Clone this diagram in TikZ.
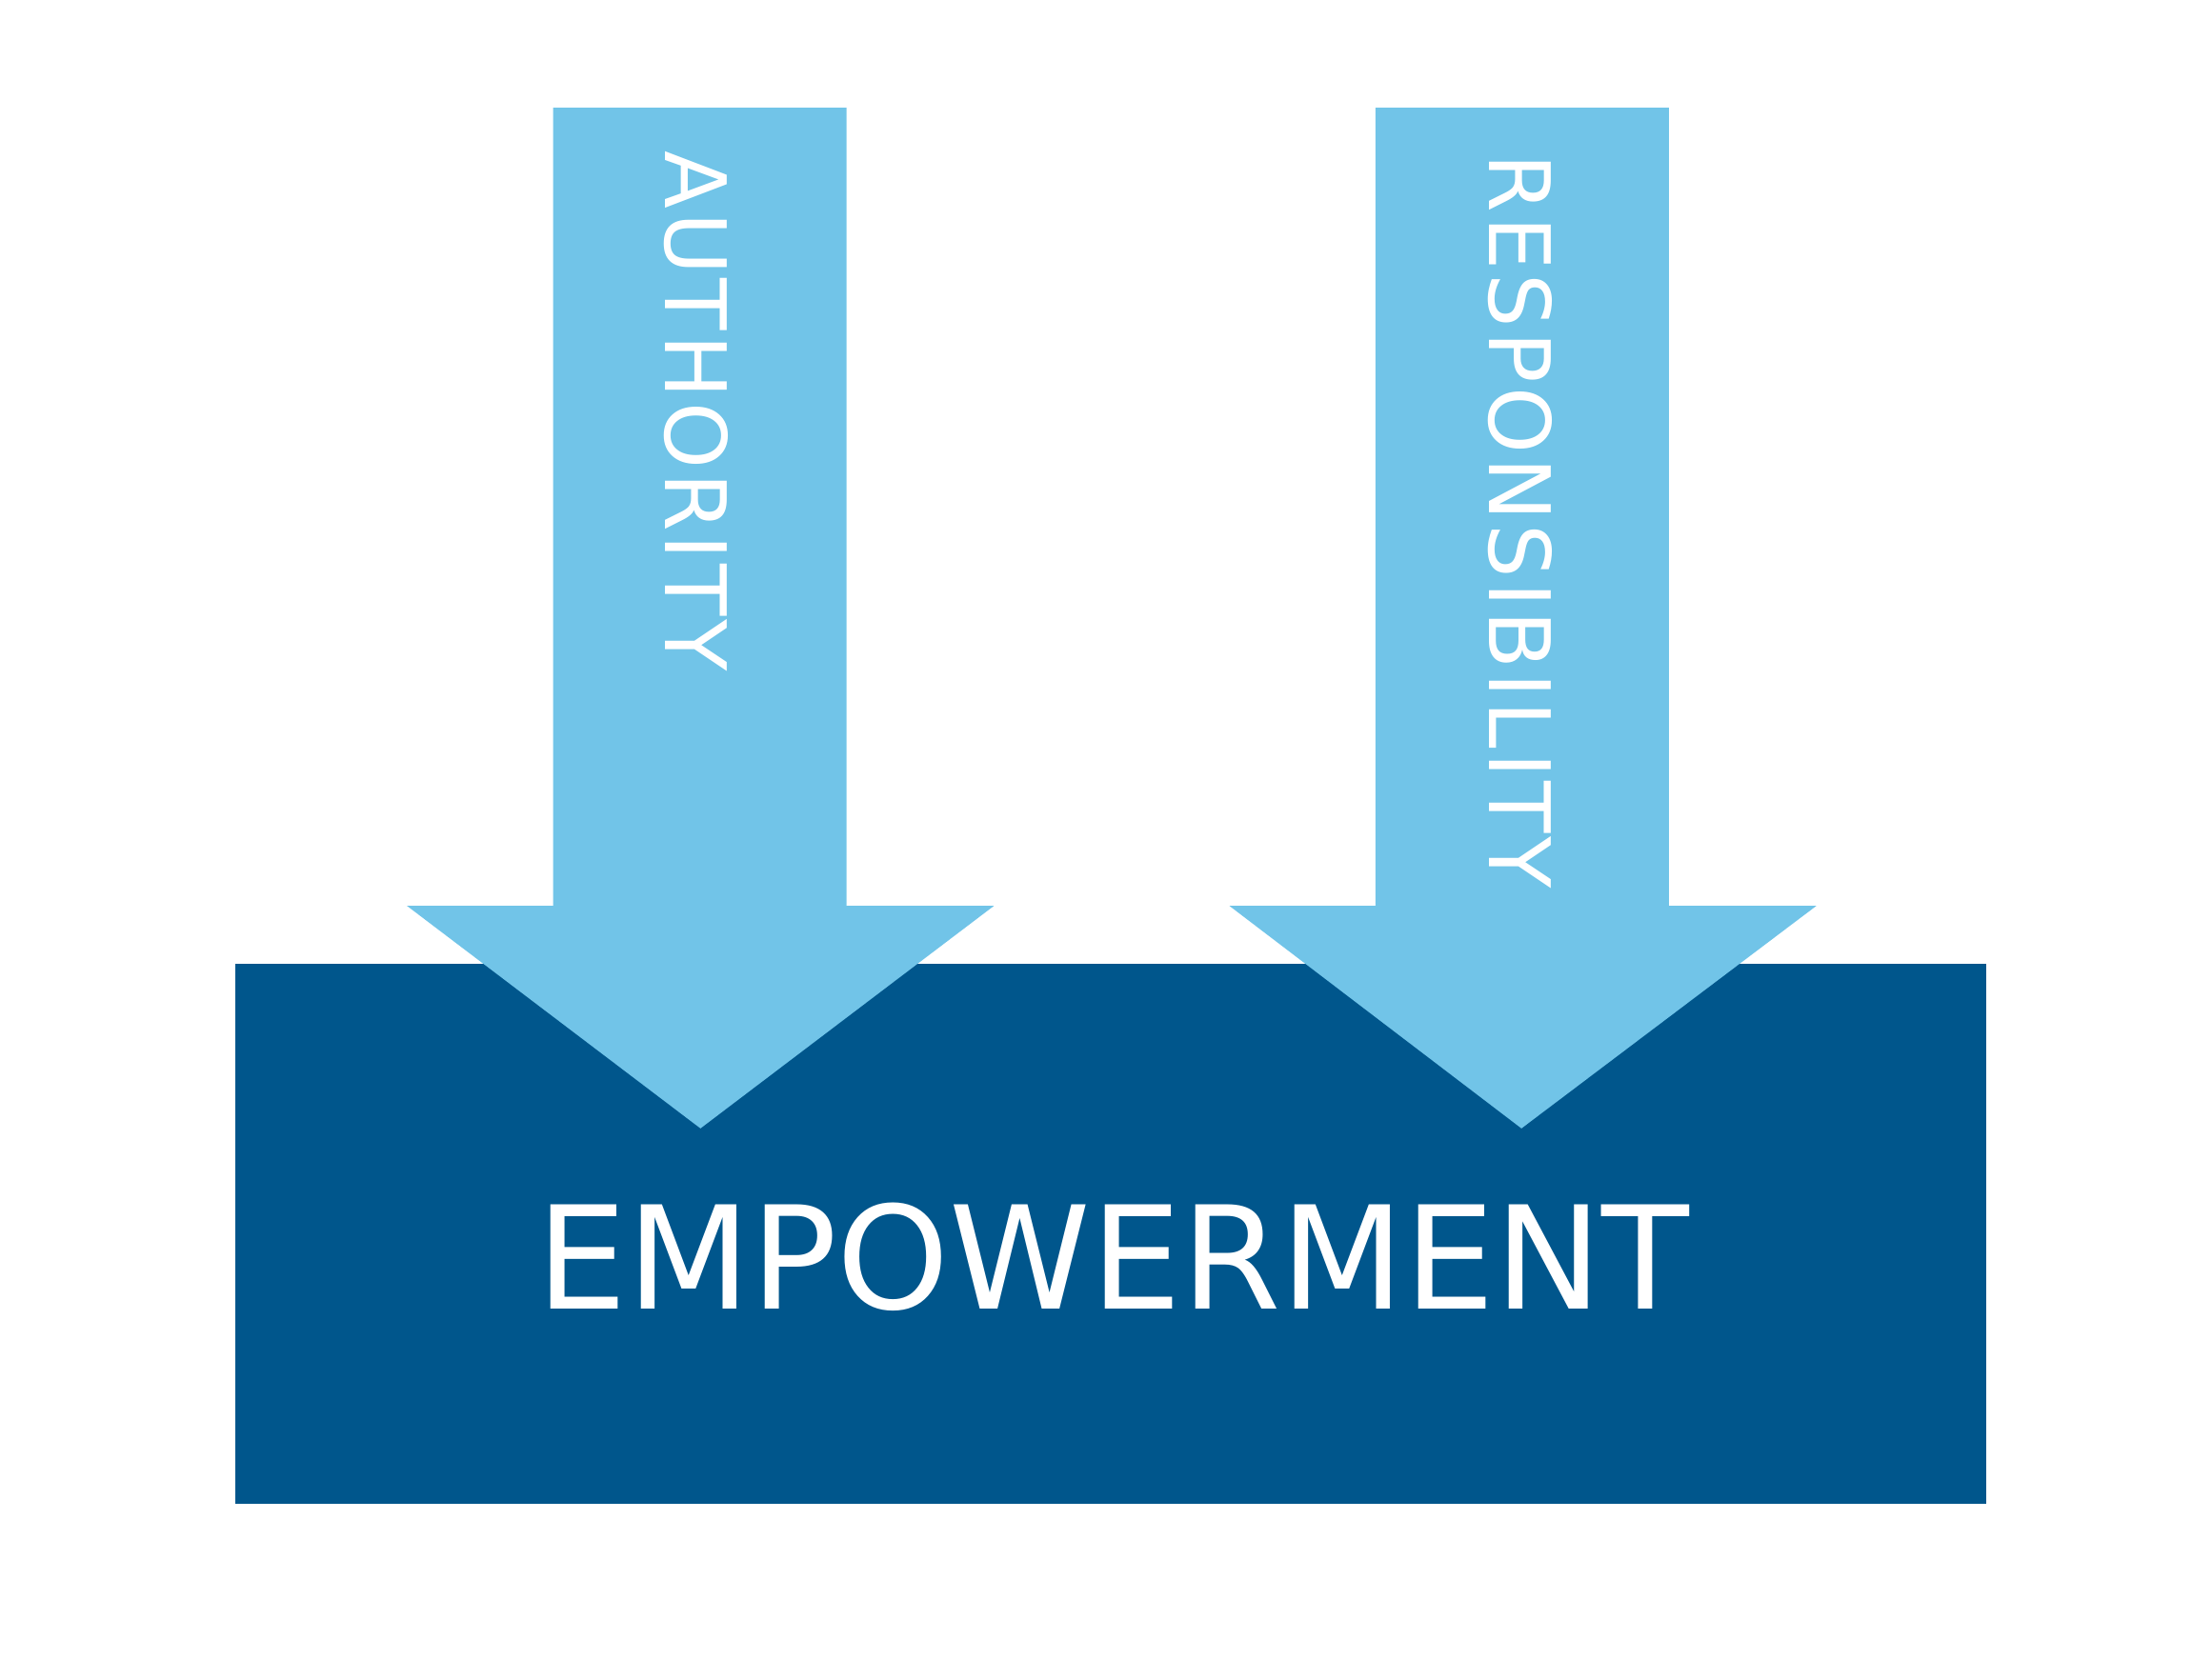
\documentclass[tikz,border=0pt]{standalone}
\usepackage{fontspec}
\setmainfont{DejaVu Sans}
\newfontfamily\spacedfont[LetterSpace=4.5]{DejaVu Sans}
\definecolor{lightarrow}{HTML}{71C4E8}
\definecolor{darkbox}{HTML}{00568C}
\begin{document}
\begin{tikzpicture}
	% Styles
	[
	x=0.01cm,y=-0.01cm,
	downarrow/.style={fill=lightarrow},
	vlabel/.style={text=white,rotate=-90,anchor=west,inner sep=0pt,font=\spacedfont\fontsize{17}{17}\selectfont},
	]

	% Frame
	\useasboundingbox (0,0) rectangle (1560,1171);

	% Base box
	\fill[darkbox] (166,680) rectangle (1401,1061);
	\node[text=white,font=\fontsize{28.7}{28.7}\selectfont] (empower) at (785,887) {EMPOWERMENT};

	% Arrows
	\fill[downarrow] (390,76) -- (597,76) -- (597,639) -- (701,639) -- (494,796)
		-- (287,639) -- (390,639) -- cycle;
	\fill[downarrow] (970,76) -- (1177,76) -- (1177,639) -- (1281,639) -- (1073,796)
		-- (867,639) -- (970,639) -- cycle;

	% Text
	\node[vlabel] (auth) at (491,106) {AUTHORITY};
	\node[vlabel] (resp) at (1072,108) {RESPONSIBILITY};

\end{tikzpicture}
\end{document}
